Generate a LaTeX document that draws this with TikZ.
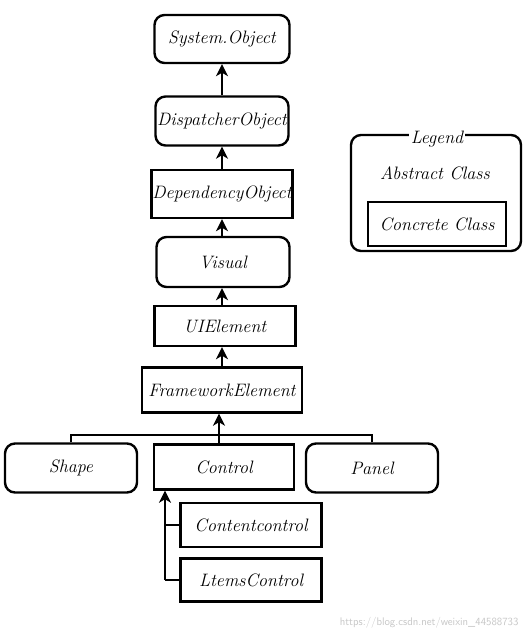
\documentclass[tikz,border=0pt]{standalone}
\usepackage{fontspec}
\setmainfont{Latin Modern Roman}
\usetikzlibrary{arrows.meta}
\begin{document}
\begin{tikzpicture}[x=1pt,y=-1pt,
  txt/.style={font=\fontsize{18}{21}\selectfont\itshape},
  base/.style={txt,draw,line width=2.4pt,inner sep=0pt},
  absbox/.style={base,rounded corners=10pt},
  conbox/.style={base},
  conn/.style={line width=2.4pt},
  arr/.style={conn,-{Stealth[length=12pt,width=12pt,inset=3.5pt]}}]
\useasboundingbox (0,0) rectangle (530,642);
% main chain
\node[absbox,minimum width=135pt,minimum height=48pt] (sys) at (222,39) {System.Object};
\node[absbox,minimum width=133pt,minimum height=49pt] (disp) at (222,121) {DispatcherObject};
\node[conbox,minimum width=141pt,minimum height=48pt] (dep) at (222,194) {DependencyObject};
\node[absbox,minimum width=133pt,minimum height=50pt] (vis) at (223,262) {Visual};
\node[conbox,minimum width=141pt,minimum height=40pt] (uie) at (225,326) {UIElement};
\node[conbox,minimum width=160pt,minimum height=45pt] (fe) at (222,390) {FrameworkElement};
\node[absbox,minimum width=132pt,minimum height=49pt] (shape) at (71,468) {Shape};
\node[conbox,minimum width=140pt,minimum height=45pt] (ctrl) at (224,467) {Control};
\node[absbox,minimum width=132pt,minimum height=49pt] (panel) at (372,468) {Panel};
\node[conbox,minimum width=141pt,minimum height=44pt] (cc) at (251,525) {Contentcontrol};
\node[conbox,minimum width=141pt,minimum height=43pt] (ic) at (251,580) {LtemsControl};
% arrows
\draw[arr] (disp.north) -- (sys.south);
\draw[arr] (dep.north) -- (disp.south);
\draw[arr] (vis.north -| dep.south) -- (dep.south);
\draw[arr] (uie.north -| dep.south) -- (vis.south -| dep.south);
\draw[arr] (fe.north -| dep.south) -- (uie.south -| dep.south);
% bus
\coordinate (bus) at (219,435);
\draw[line width=1.6pt] (shape.north) |- (bus) -| (panel.north);
\draw[conn] (ctrl.north -| bus) -- (bus);
\draw[arr] (bus) -- (bus |- fe.south);
% control children
\coordinate (cl) at (165,0);
\draw[conn] (ic.west) -| (ic.west -| cl);
\draw[conn] (cc.west) -- (cc.west -| cl);
\draw[arr] (ic.west -| cl) -- (ctrl.south -| cl);
% legend
\node[absbox,minimum width=170pt,minimum height=116pt] (leg) at (436,193) {};
\node[txt,fill=white,inner sep=2pt] (legt) at (437,139) {Legend};
\node[txt] (abs) at (435,173) {Abstract Class};
\node[conbox,minimum width=138pt,minimum height=44pt] (conc) at (437,224) {Concrete Class};
% watermark
\node[text=gray!45,font=\fontsize{11}{13}\selectfont\sffamily,anchor=east] (wm) at (522,623) {https://blog.csdn.net/weixin\_44588733};
\end{tikzpicture}
\end{document}
